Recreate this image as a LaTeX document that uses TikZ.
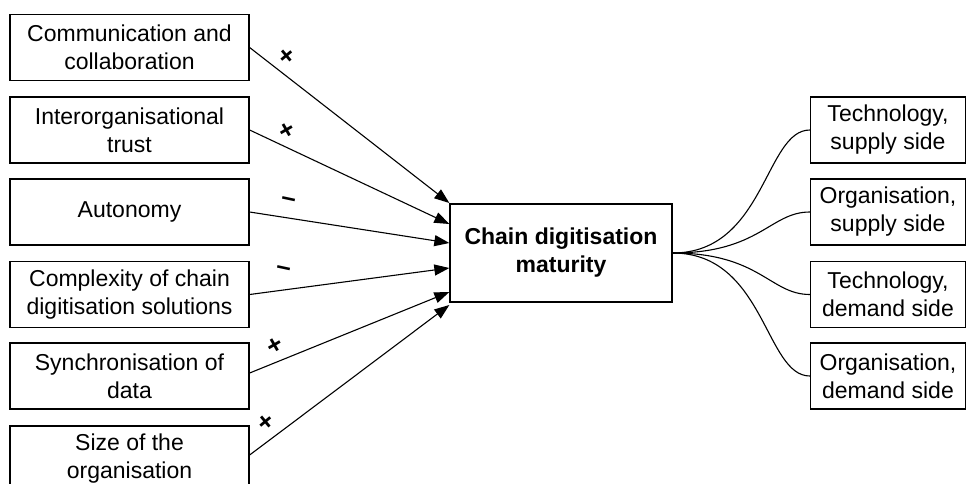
\documentclass[tikz,border=0pt]{standalone}
\usepackage{fontspec}
\setmainfont{Liberation Sans}
\usetikzlibrary{arrows.meta}
\begin{document}
\begin{tikzpicture}[x=1pt,y=-1pt,
  box/.style={draw=black, line width=1.3pt, align=center, inner sep=0pt,
    font=\fontsize{23}{28}\selectfont},
  lbox/.style={box, minimum width=239pt, minimum height=66pt},
  rbox/.style={box, minimum width=155pt, minimum height=66pt},
  arr/.style={line width=1.1pt, -{Triangle[length=15pt,width=11pt]}},
  fan/.style={line width=1.1pt},
  sgn/.style={font=\fontsize{26}{26}\selectfont\bfseries, inner sep=0pt}]
\useasboundingbox (0,0) rectangle (967,483);
% left boxes
\node[lbox] (a1) at (129.5,47.5) {Communication and\\collaboration};
\node[lbox] (a2) at (129.5,130) {Interorganisational\\trust};
\node[lbox] (a3) at (129.5,212) {Autonomy};
\node[lbox] (a4) at (129.5,294.5) {Complexity of chain\\digitisation solutions};
\node[lbox] (a5) at (129.5,376) {Synchronisation of\\data};
\node[lbox] (a6) at (129.5,459) {Size of the\\organisation};
% central box
\node[box, minimum width=222pt, minimum height=98pt, font=\fontsize{23}{28}\selectfont\bfseries] (c) at (561,253) {Chain digitisation\\maturity};
% right boxes
\node[rbox] (r1) at (888,130) {Technology,\\supply side};
\node[rbox] (r2) at (888,212) {Organisation,\\supply side};
\node[rbox] (r3) at (888,294.5) {Technology,\\demand side};
\node[rbox] (r4) at (888,376) {Organisation,\\demand side};
% arrows
\draw[arr] (a1.east) -- ([yshift=50pt]c.west);
\draw[arr] (a2.east) -- ([yshift=29pt]c.west);
\draw[arr] (a3.east) -- ([yshift=10pt]c.west);
\draw[arr] (a4.east) -- ([yshift=-15pt]c.west);
\draw[arr] ([yshift=3pt]a5.east) -- ([yshift=-39pt]c.west);
\draw[arr] ([yshift=4pt]a6.east) -- ([yshift=-52pt]c.west);
% signs
\node[sgn, rotate=40] (s1) at (287,57) {+};
\node[sgn, rotate=30] (s2) at (287,131) {+};
\node[sgn, rotate=-12] (s3) at (288,202) {–};
\node[sgn, rotate=-12] (s4) at (283,271) {–};
\node[sgn, rotate=30] (s5) at (275,346) {+};
\node[sgn, rotate=40] (s6) at (266,423) {+};
% fan
\draw[fan] (c.east) .. controls (765,253) and (765,130) .. (r1.west);
\draw[fan] (c.east) .. controls (760,253) and (770,212) .. (r2.west);
\draw[fan] (c.east) .. controls (760,253) and (770,294.5) .. (r3.west);
\draw[fan] (c.east) .. controls (765,253) and (765,376) .. (r4.west);
\end{tikzpicture}
\end{document}
